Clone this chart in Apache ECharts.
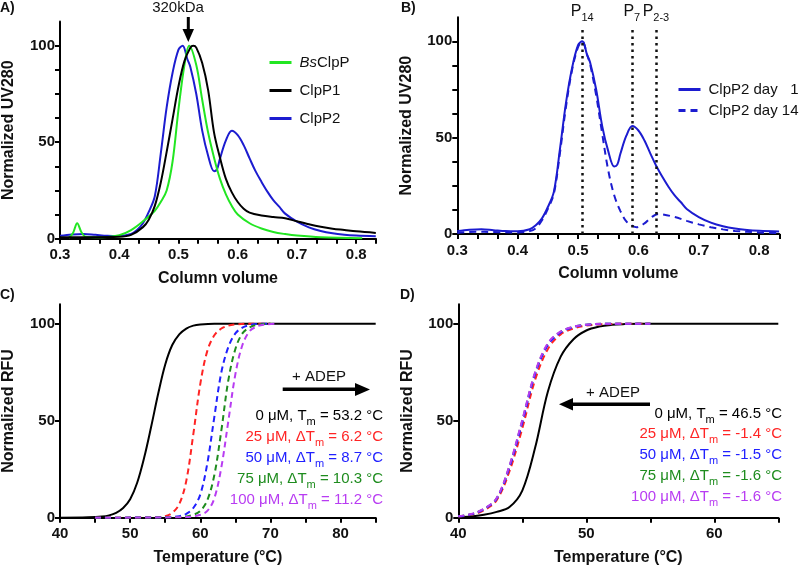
<!DOCTYPE html>
<html>
<head>
<meta charset="utf-8">
<script src="https://cdn.jsdelivr.net/npm/echarts@6/dist/echarts.min.js"></script>
<style>html,body{margin:0;padding:0;background:#fff}#c{width:800px;height:571px}</style>
</head>
<body>
<div id="c"></div>
<script>
// ---------- Panel A / B : size-exclusion traces (x = column volume, y = normalized UV280) ----------
const bsClpP = [[0.315,0.5],[0.322,3],[0.329,8],[0.336,3.5],[0.343,1],[0.36,0.8],[0.38,0.9],[0.40,1.8],[0.42,4.5],[0.44,9],[0.46,14.5],[0.47,19],[0.48,25],[0.49,40],[0.50,67],[0.51,90],[0.518,100],[0.53,90],[0.54,72],[0.55,55],[0.56,42],[0.57,31],[0.58,23],[0.59,17],[0.60,12.5],[0.62,8],[0.64,5.3],[0.66,3.5],[0.68,2.4],[0.70,1.6],[0.74,0.7],[0.81,0.2]];
const clpP1 = [[0.30,0.8],[0.35,0.8],[0.40,1],[0.42,2],[0.44,6],[0.45,10],[0.46,17],[0.47,29],[0.48,45],[0.49,62],[0.50,79],[0.51,92],[0.52,99],[0.525,100],[0.53,99],[0.54,91],[0.55,77],[0.56,55],[0.57,42],[0.58,31],[0.59,24],[0.60,19],[0.61,15.5],[0.62,13.5],[0.64,12],[0.66,11.2],[0.68,10.6],[0.70,9],[0.72,7.5],[0.74,6.2],[0.76,5.2],[0.78,4.5],[0.80,3.8],[0.833,3]];
const clpP2Day1 = [[0.30,1.5],[0.32,2.2],[0.34,2.5],[0.36,2.0],[0.38,1.5],[0.40,1.4],[0.42,2.5],[0.43,4.5],[0.44,8],[0.45,14],[0.46,22],[0.47,44],[0.48,68],[0.49,86],[0.50,98],[0.507,100],[0.515,93],[0.52,89],[0.53,75],[0.54,56],[0.55,43],[0.56,35],[0.565,36],[0.57,41.5],[0.58,51],[0.59,56],[0.60,53.7],[0.61,48.5],[0.62,41.6],[0.63,35],[0.64,29.5],[0.65,24.4],[0.66,20],[0.67,16.6],[0.68,13],[0.70,8.8],[0.72,5.9],[0.74,4],[0.76,2.8],[0.78,2.1],[0.80,1.7],[0.833,1.3]];
const clpP2Day14 = [[0.30,0.5],[0.33,1.2],[0.36,1.0],[0.40,0.8],[0.42,1.5],[0.43,3],[0.44,7],[0.45,13],[0.46,21],[0.47,42],[0.48,66],[0.49,85],[0.50,97],[0.507,100],[0.515,93],[0.52,88],[0.53,72],[0.54,52],[0.55,33],[0.56,20],[0.57,12],[0.58,6.5],[0.59,4.2],[0.597,3.5],[0.61,5.5],[0.62,8.3],[0.633,10.4],[0.64,10.2],[0.66,8.8],[0.68,6.8],[0.70,5],[0.72,3.5],[0.74,2.4],[0.76,1.6],[0.80,0.8],[0.833,0.5]];
const peakPositions = [0.507, 0.589, 0.629];
const peakLabels = ['14', '7', '2-3'];
const volumeTickLabels = [0.3, 0.4, 0.5, 0.6, 0.7, 0.8];
const uvTickLabels = [0, 50, 100];

// ---------- Panel C / D : thermal shift (x = temperature, y = normalized RFU) ----------
const c0 = [[40,0],[44,0.2],[46,0.6],[47,1.2],[48,2.5],[49,5],[50,9.5],[51,18],[52,31],[53,47],[54,64],[55,79],[56,89],[57,94.5],[58,97.5],[59,99],[60,99.6],[62,100],[85,100]];
const c25 = [[45,0],[50,0],[54,0.3],[55,0.8],[56,2.5],[57,7],[58,19],[59,43],[60,69],[61,86],[62,94],[63,97.5],[64,99],[65,99.6],[67,100],[70,100]];
const c50 = [[45,0],[55,0.2],[57,0.8],[58,2],[59,5],[60,12],[61,28],[62,52],[63,75],[64,88],[65,95],[66,98],[67,99.3],[68,99.8],[70,100]];
const c75 = [[45,0],[57,0.3],[59,1.5],[60,3.5],[61,9],[62,22],[63,45],[64,71],[65,87],[66,95],[67,98],[68,99.3],[70,100]];
const c100 = [[45,0],[58,0.3],[60,1.5],[61,3.5],[62,10],[63,26],[64,50],[65,74],[66,89],[67,96],[68,98.5],[69,99.5],[71,100]];
const cTexts = ['0 μM, |T|m| = 53.2 °C', '25 μM, |ΔT|m| = 6.2 °C', '50 μM, |ΔT|m| = 8.7 °C', '75 μM, |ΔT|m| = 10.3 °C', '100 μM, |ΔT|m| = 11.2 °C'];

const d0 = [[40,0.3],[41,0.6],[42,1.5],[43,3],[44,5.5],[45,14],[46,36],[47,65],[48,83],[49,92],[50,96.5],[51,98.5],[52,99.4],[53,99.8],[54,100],[65,100]];
const d25 = [[40,0.6],[41,1.5],[42,3.8],[43,9],[44,24],[45,46],[46,71],[47,87],[48,94.5],[49,97.5],[50,99],[51,99.6],[53,100],[55,100]];
const d50 = [[40,0.7],[41,1.7],[42,4.3],[43,9.8],[44,26],[45,49],[46,74],[47,89],[48,95.5],[49,98.2],[50,99.4],[52,100],[55,100]];
const d75 = [[40,0.8],[41,1.8],[42,4.5],[43,10],[44,26.5],[45,50],[46,74.5],[47,89.5],[48,95.8],[49,98.4],[50,99.5],[52,100],[55,100]];
const d100 = [[40,0.8],[41,1.9],[42,4.6],[43,10.2],[44,27],[45,50.5],[46,75],[47,90],[48,96],[49,98.5],[50,99.5],[52,100],[55,100]];
const dTexts = ['0 μM, |T|m| = 46.5 °C', '25 μM, |ΔT|m| = -1.4 °C', '50 μM, |ΔT|m| = -1.5 °C', '75 μM, |ΔT|m| = -1.6 °C', '100 μM, |ΔT|m| = -1.6 °C'];

const tempTickLabelsC = [40, 50, 60, 70, 80];
const tempTickLabelsD = [40, 50, 60];
const rfuTickLabels = [0, 50, 100];

// ---------- styling ----------
const FONT = 'Arial';
const GREEN = '#22e622', BLACK = '#000000', NAVY = '#1c1cd0';
const RED = '#ff2424', BLUE = '#2020ff', DGREEN = '#1e8c1e', PURPLE = '#b83cf2';
const concColors = [BLACK, RED, BLUE, DGREEN, PURPLE];

function steps(a, b, n) { const r = []; for (let k = 0; k <= n; k++) r.push(+(a + (b - a) * k / n).toFixed(6)); return r; }

function xAxisCfg(grid, min, max, labels, ticks, name) {
  return {
    type: 'value', gridIndex: grid, min: min, max: max,
    name: name, nameLocation: 'middle', nameGap: 32,
    nameTextStyle: { fontFamily: FONT, fontWeight: 'bold', fontSize: 16, color: '#111' },
    axisLine: { onZero: false, lineStyle: { color: '#000', width: 2 } },
    axisTick: { show: true, customValues: ticks, length: 5, lineStyle: { color: '#000', width: 2 } },
    axisLabel: { customValues: labels, margin: 9, fontFamily: FONT, fontWeight: 'bold', fontSize: 15, color: '#111',
      formatter: v => (Math.abs(v) < 1 ? (+v).toFixed(1) : String(Math.round(v))) },
    splitLine: { show: false }
  };
}
function yAxisCfg(grid, max, labels, ticks, name) {
  return {
    type: 'value', gridIndex: grid, min: 0, max: max,
    name: name, nameLocation: 'middle', nameGap: 43,
    nameTextStyle: { fontFamily: FONT, fontWeight: 'bold', fontSize: 16, color: '#111' },
    axisLine: { onZero: false, lineStyle: { color: '#000', width: 2 } },
    axisTick: { show: true, customValues: ticks, length: 5, lineStyle: { color: '#000', width: 2 } },
    axisLabel: { customValues: labels, margin: 5, fontFamily: FONT, fontWeight: 'bold', fontSize: 15, color: '#111' },
    splitLine: { show: false }
  };
}
function line(name, data, xi, color, dashed, z) {
  return {
    type: 'line', name: name, data: data, xAxisIndex: xi, yAxisIndex: xi,
    showSymbol: false, symbol: 'none', smooth: 0.35, animation: false, z: z || 2,
    lineStyle: { color: color, width: 2, type: dashed ? dashed : 'solid' },
    itemStyle: { color: color }
  };
}

const series = [
  line('ClpP2', clpP2Day1, 0, NAVY, null, 2),
  line('BsClpP', bsClpP, 0, GREEN, null, 3),
  line('ClpP1', clpP1, 0, BLACK, null, 4),
  line('ClpP2 day   1', clpP2Day1, 1, NAVY, null, 3),
  line('ClpP2 day 14', clpP2Day14, 1, NAVY, [7, 5], 3),
  line('C 0 μM', c0, 2, BLACK, null, 2),
  line('C 25 μM', c25, 2, RED, [6, 4], 3),
  line('C 50 μM', c50, 2, BLUE, [6, 4], 3),
  line('C 75 μM', c75, 2, DGREEN, [6, 4], 3),
  line('C 100 μM', c100, 2, PURPLE, [6, 4], 3),
  line('D 0 μM', d0, 3, BLACK, null, 2),
  line('D 25 μM', d25, 3, RED, [6, 4], 3),
  line('D 75 μM', d75, 3, DGREEN, [6, 4], 3),
  line('D 50 μM', d50, 3, BLUE, [6, 4], 3),
  line('D 100 μM', d100, 3, PURPLE, [6, 4], 4)
];

// dotted peak markers in panel B
series[4].markLine = {
  silent: true, symbol: 'none', animation: false,
  lineStyle: { color: '#111', width: 2.5, type: [2.5, 4] },
  label: {
    show: true, position: 'end', distance: 5,
    formatter: p => '{p|P}{s|' + peakLabels[p.dataIndex] + '}',
    rich: { p: { fontFamily: FONT, fontSize: 16, color: '#111', padding: [0, 0, 4, 0] },
            s: { fontFamily: FONT, fontSize: 11, color: '#111', verticalAlign: 'bottom' } }
  },
  data: peakPositions.map(p => [{ coord: [p, 0] }, { coord: [p, 106.5] }])
};

function richLines(arr, x, y0, gap, align) {
  return arr.map((t, i) => {
    const parts = t.split('|');
    return {
      type: 'text', x: x, y: y0 + i * gap, z: 10,
      style: {
        text: '{t|' + parts[0] + parts[1] + '}{s|' + parts[2] + '}{t|' + parts[3] + '}',
        align: align, verticalAlign: 'middle',
        rich: {
          t: { fontFamily: FONT, fontSize: 15, fill: concColors[i], padding: [0, 0, 4, 0] },
          s: { fontFamily: FONT, fontSize: 11, fill: concColors[i], verticalAlign: 'bottom' }
        }
      }
    };
  });
}

const labelStyle = { fontFamily: FONT, fontSize: 14, fontWeight: 'bold', fill: '#111' };

const graphic = [
  { type: 'text', x: 0, y: 1, style: Object.assign({ text: 'A)' }, labelStyle) },
  { type: 'text', x: 401, y: 1, style: Object.assign({ text: 'B)' }, labelStyle) },
  { type: 'text', x: 0, y: 288, style: Object.assign({ text: 'C)' }, labelStyle) },
  { type: 'text', x: 400, y: 288, style: Object.assign({ text: 'D)' }, labelStyle) },
  // 320 kDa arrow (panel A)
  { type: 'text', x: 178, y: 8, style: { text: '320kDa', fontFamily: FONT, fontSize: 15, fill: '#111', align: 'center', verticalAlign: 'middle' } },
  { type: 'line', shape: { x1: 188.3, y1: 17, x2: 188.3, y2: 31 }, style: { stroke: '#000', lineWidth: 3 } },
  { type: 'polygon', shape: { points: [[182.5, 29], [194, 29], [188.3, 42]] }, style: { fill: '#000' } },
  // + ADEP arrow (panel C)
  { type: 'text', x: 319, y: 377, style: { text: '+ ADEP', fontFamily: FONT, fontSize: 15, fill: '#111', align: 'center', verticalAlign: 'middle' } },
  { type: 'line', shape: { x1: 282.7, y1: 389.3, x2: 357, y2: 389.3 }, style: { stroke: '#000', lineWidth: 3.5 } },
  { type: 'polygon', shape: { points: [[355, 383], [355, 396], [370, 389.5]] }, style: { fill: '#000' } },
  // + ADEP arrow (panel D)
  { type: 'text', x: 613, y: 393, style: { text: '+ ADEP', fontFamily: FONT, fontSize: 15, fill: '#111', align: 'center', verticalAlign: 'middle' } },
  { type: 'line', shape: { x1: 650, y1: 404.3, x2: 571, y2: 404.3 }, style: { stroke: '#000', lineWidth: 3.5 } },
  { type: 'polygon', shape: { points: [[573, 398], [573, 410.5], [559, 404.3]] }, style: { fill: '#000' } }
].concat(richLines(cTexts, 383, 417.5, 21, 'right'), richLines(dTexts, 782, 415.5, 20.8, 'right'));

const legendItem = { color: 'rgba(0,0,0,0)', borderWidth: 0, opacity: 0 };

const option = {
  animation: false,
  backgroundColor: '#fff',
  textStyle: { fontFamily: FONT },
  grid: [
    { left: 54.3, top: 21.6, width: 321.7, height: 217.1 },
    { left: 457.3, top: 17.2, width: 322, height: 216.8 },
    { left: 54.3, top: 304.3, width: 321.4, height: 213.4 },
    { left: 458.3, top: 304.3, width: 320, height: 213.4 }
  ],
  xAxis: [
    xAxisCfg(0, 0.3, 25 / 30, volumeTickLabels, steps(0.3, 25 / 30, 16), 'Column volume'),
    xAxisCfg(1, 0.3, 25 / 30, volumeTickLabels, steps(0.3, 25 / 30, 16), 'Column volume'),
    xAxisCfg(2, 40, 85, tempTickLabelsC, steps(40, 85, 9), 'Temperature (°C)'),
    xAxisCfg(3, 40, 65, tempTickLabelsD, steps(40, 65, 5), 'Temperature (°C)')
  ],
  yAxis: [
    yAxisCfg(0, 112.5, uvTickLabels, steps(0, 100, 8), 'Normalized UV280'),
    yAxisCfg(1, 112.5, uvTickLabels, steps(0, 100, 8), 'Normalized UV280'),
    yAxisCfg(2, 110, rfuTickLabels, rfuTickLabels, 'Normalized RFU'),
    yAxisCfg(3, 110, rfuTickLabels, rfuTickLabels, 'Normalized RFU')
  ],
  legend: [
    { orient: 'vertical', left: 263, top: 50, itemWidth: 22, itemHeight: 14, itemGap: 13,
      data: ['BsClpP', 'ClpP1', 'ClpP2'], selectedMode: false,
      itemStyle: legendItem, lineStyle: { width: 3 },
      formatter: n => n === 'BsClpP' ? '{i|Bs}{n|ClpP}' : '{n|' + n + '}',
      textStyle: { color: '#111', padding: [0, 0, 0, 3], lineHeight: 15,
        rich: { i: { fontFamily: FONT, fontSize: 15, fontStyle: 'italic', color: '#111' }, n: { fontFamily: FONT, fontSize: 15, color: '#111' } } } },
    { orient: 'vertical', left: 672, top: 77, itemWidth: 22, itemHeight: 14, itemGap: 6,
      data: ['ClpP2 day   1', 'ClpP2 day 14'], selectedMode: false,
      itemStyle: legendItem, lineStyle: { width: 3 },
      textStyle: { fontFamily: FONT, fontSize: 15, color: '#111', padding: [0, 0, 0, 3], lineHeight: 15 } }
  ],
  series: series,
  graphic: graphic
};

const chart = echarts.init(document.getElementById('c'), null, { renderer: 'canvas' });
chart.setOption(option);
</script>
</body>
</html>
